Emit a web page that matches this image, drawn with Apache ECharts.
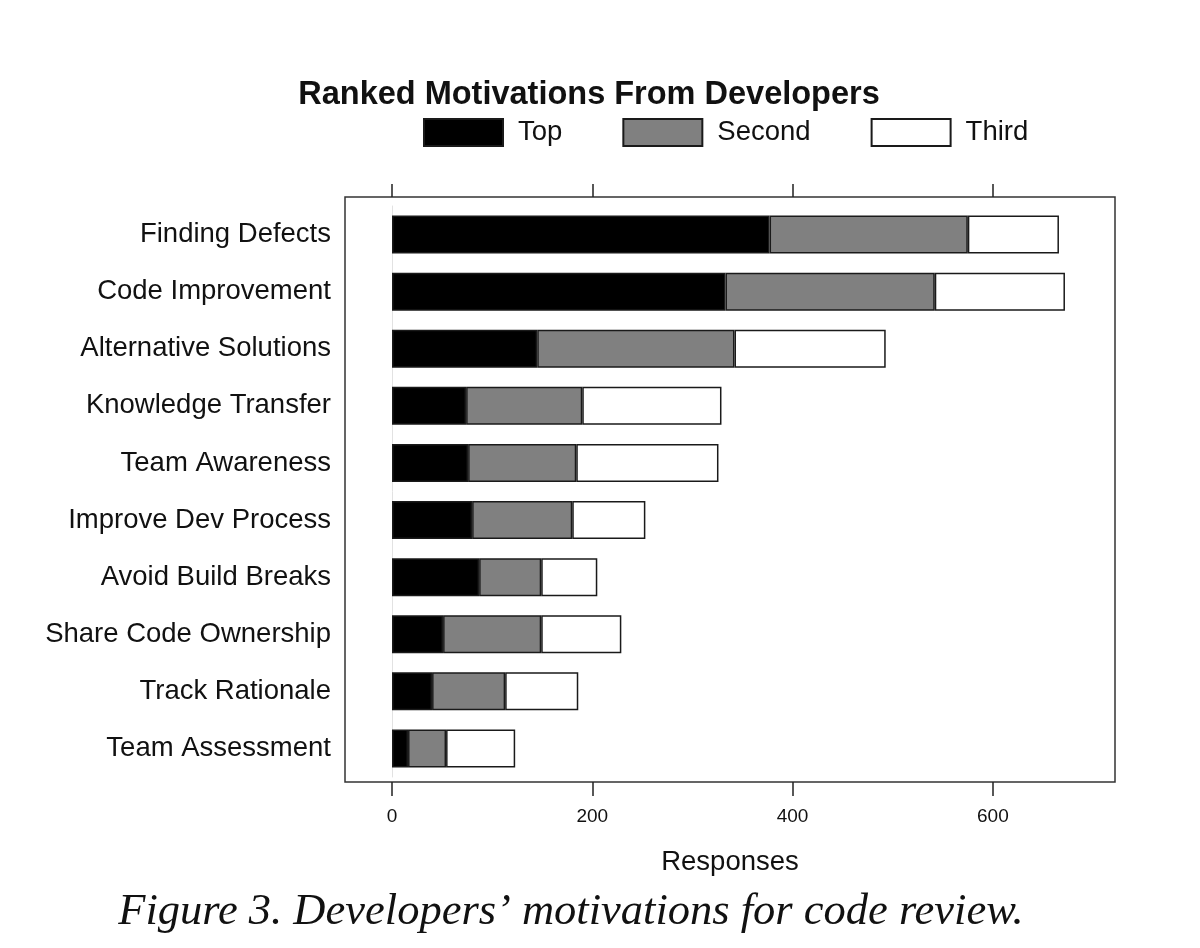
<!DOCTYPE html>
<html>
<head>
    <meta charset="utf-8">
    <title>Ranked Motivations From Developers</title>
    <script src="https://cdn.jsdelivr.net/npm/echarts@6/dist/echarts.min.js"></script>
    <style>
        body { margin: 0; background: #fff; }
    </style>
</head>
<body>
<div id="main" style="width: 1200px;height:948px;"></div>

<script type="text/javascript">
    // data
    var categories = ['Finding Defects', 'Code Improvement', 'Alternative Solutions', 'Knowledge Transfer',
        'Team Awareness', 'Improve Dev Process', 'Avoid Build Breaks', 'Share Code Ownership',
        'Track Rationale', 'Team Assessment'];
    var topVals    = [377, 333, 145, 74, 76, 80, 87, 51, 40, 16];
    var secondVals = [198, 209, 197, 116, 108, 100, 62, 98, 73, 38];
    var thirdVals  = [91, 130, 151, 139, 142, 73, 56, 80, 73, 69];
    var xTicks = [0, 200, 400, 600];

    var font = '"Liberation Sans", Arial, sans-serif';
    var barBorder = { borderColor: '#1a1a1a', borderWidth: 1.5 };

    var myChart = echarts.init(document.getElementById('main'));

    var option = {
        backgroundColor: '#fff',
        animation: false,
        title: [{
            text: 'Ranked Motivations From Developers',
            left: 584, top: 74, textAlign: 'center',
            textStyle: { fontFamily: font, fontSize: 32.5, fontWeight: 'bold', color: '#111' }
        }, {
            text: 'Figure 3. Developers\u2019 motivations for code review.',
            left: 566, top: 885, textAlign: 'center',
            textStyle: { fontFamily: '"Liberation Serif", "Times New Roman", serif', fontSize: 44.5,
                fontStyle: 'italic', fontWeight: 'normal', color: '#111' }
        }],
        legend: {
            data: ['Top', 'Second', 'Third'],
            left: 418, top: 113,
            itemWidth: 79, itemHeight: 27, itemGap: 60,
            icon: 'rect',
            textStyle: { fontFamily: font, fontSize: 27.5, color: '#111', padding: [0, 0, 0, 10] }
        },
        grid: { left: 392, right: 107, top: 206, bottom: 171 },
        xAxis: [{
            type: 'value', position: 'bottom', offset: 5,
            min: xTicks[0], max: 700, interval: 200,
            axisLine: { show: false },
            axisTick: { show: true, length: 14, customValues: xTicks, lineStyle: { color: '#222', width: 1.5 } },
            splitLine: { show: false },
            axisLabel: {
                margin: 25, fontFamily: font, fontSize: 19, color: '#111', customValues: xTicks
            }
        }, {
            type: 'value', position: 'top', offset: 9,
            min: xTicks[0], max: 700, interval: 200,
            axisLine: { show: false },
            axisTick: { show: true, length: 13, customValues: xTicks, lineStyle: { color: '#222', width: 1.5 } },
            splitLine: { show: false },
            axisLabel: { show: false }
        }],
        yAxis: {
            type: 'category', data: categories, inverse: true,
            axisTick: { show: false },
            axisLine: { show: true, lineStyle: { color: '#e2e2e2', width: 1 } },
            axisLabel: { margin: 61, fontFamily: font, fontSize: 27.5, color: '#111' }
        },
        graphic: [{
            type: 'rect', z: 0,
            shape: { x: 345, y: 197, width: 770, height: 585 },
            style: { fill: null, stroke: '#333', lineWidth: 1.5 }
        }, {
            type: 'text', x: 730, y: 862,
            style: { text: 'Responses', font: '27.5px ' + font, fill: '#111',
                textAlign: 'center', textVerticalAlign: 'middle' }
        }],
        series: [{
            name: 'Top', type: 'bar', stack: 'total', barWidth: 38,
            itemStyle: Object.assign({ color: '#000' }, barBorder),
            data: topVals
        }, {
            name: 'Second', type: 'bar', stack: 'total', barWidth: 38,
            itemStyle: Object.assign({ color: '#808080' }, barBorder),
            data: secondVals
        }, {
            name: 'Third', type: 'bar', stack: 'total', barWidth: 38,
            itemStyle: Object.assign({ color: '#fff' }, barBorder),
            data: thirdVals
        }]
    };

    myChart.setOption(option);
</script>
</body>
</html>
